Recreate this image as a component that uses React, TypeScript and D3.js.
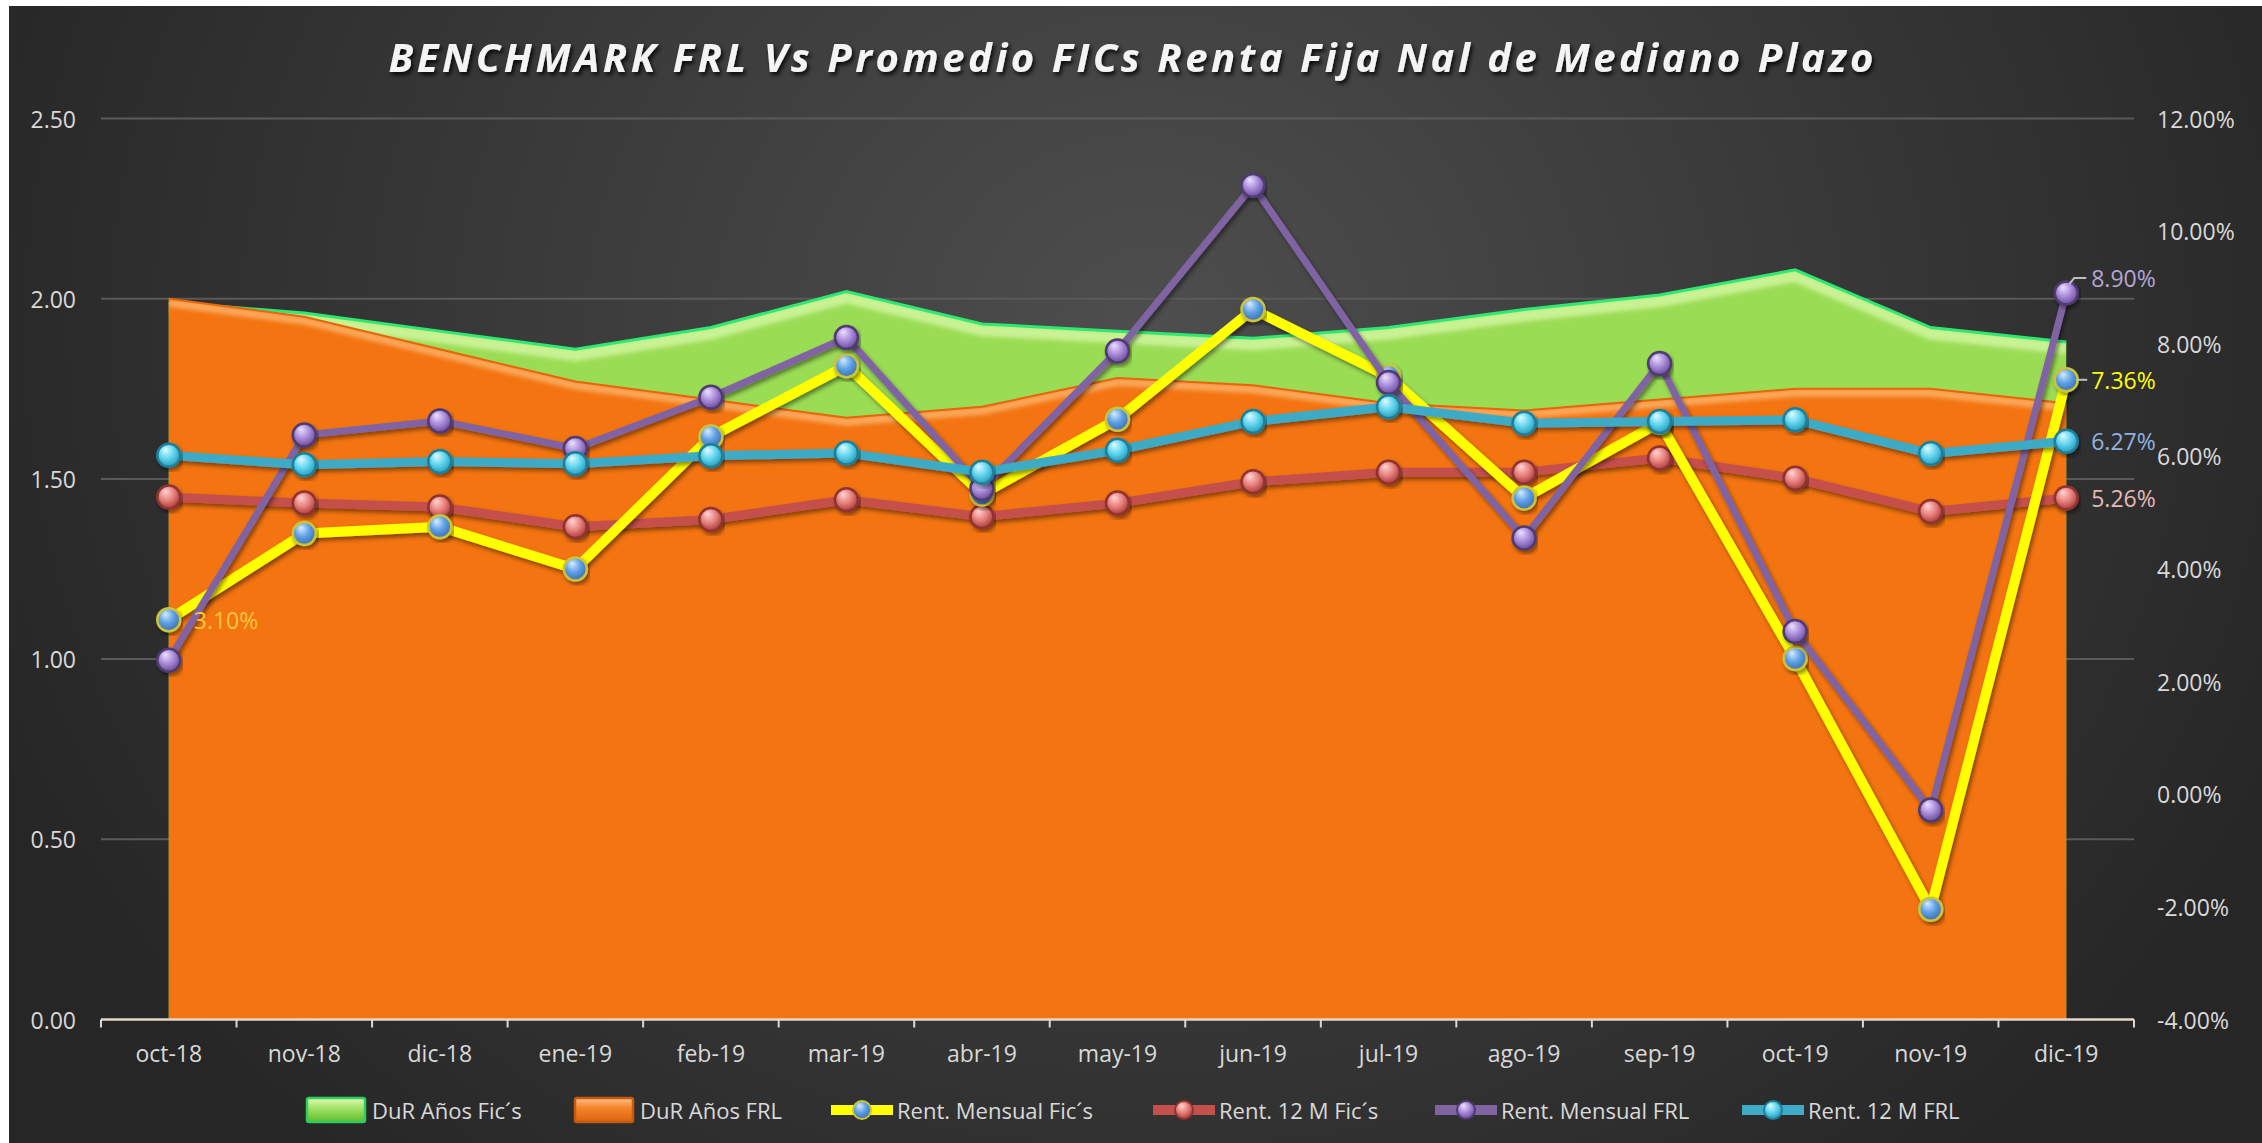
import React from 'react';
import * as d3 from 'd3';

const categories = ['oct-18','nov-18','dic-18','ene-19','feb-19','mar-19','abr-19','may-19','jun-19','jul-19','ago-19','sep-19','oct-19','nov-19','dic-19'];
const durFics = [1.99,1.96,1.91,1.86,1.92,2.02,1.93,1.91,1.89,1.92,1.97,2.01,2.08,1.92,1.88];
const durFrl = [2.00,1.95,1.86,1.77,1.72,1.67,1.70,1.78,1.76,1.71,1.69,1.72,1.75,1.75,1.71];
const rentMensualFics = [3.10,4.63,4.75,4.00,6.35,7.61,5.33,6.66,8.61,7.42,5.26,6.60,2.41,-2.04,7.36];
const rent12MFics = [5.28,5.17,5.10,4.75,4.88,5.23,4.93,5.17,5.55,5.72,5.72,5.97,5.61,5.02,5.26];
const rentMensualFrl = [2.38,6.38,6.63,6.14,7.05,8.11,5.43,7.87,10.81,7.31,4.55,7.65,2.89,-0.28,8.90];
const rent12MFrl = [6.02,5.85,5.91,5.87,6.01,6.06,5.72,6.11,6.62,6.88,6.59,6.62,6.65,6.05,6.27];
const leftTicks = [0, 0.5, 1, 1.5, 2, 2.5];
const rightTicks = [-4, -2, 0, 2, 4, 6, 8, 10, 12];

const W = 2262, H = 1143;
const PL = 101, PR = 2134, PT = 118.5, PB = 1019.5;
const FONT = "'Open Sans', 'Liberation Sans', sans-serif";

type LineSeries = { name: string; values: number[]; color: string; width: number; grad: string; mstroke: string };

const lineSeries: LineSeries[] = [
  { name: 'Rent. 12 M Fic´s', values: rent12MFics, color: '#c4504c', width: 9, grad: 'gRed', mstroke: '#8f3330' },
  { name: 'Rent. Mensual Fic´s', values: rentMensualFics, color: '#ffff00', width: 10, grad: 'gBlue', mstroke: '#c9c43a' },
  { name: 'Rent. Mensual FRL', values: rentMensualFrl, color: '#8064a2', width: 7, grad: 'gPurple', mstroke: '#4f3a72' },
  { name: 'Rent. 12 M FRL', values: rent12MFrl, color: '#3eaac6', width: 9, grad: 'gCyan', mstroke: '#1f7f99' },
];

const legendItems = [
  { name: 'DuR Años Fic´s', kind: 'area', grad: 'lgGreen', stroke: '#2ccf5c', x: 307 },
  { name: 'DuR Años FRL', kind: 'area', grad: 'lgOrange', stroke: '#c85a10', x: 575 },
  { name: 'Rent. Mensual Fic´s', kind: 'line', color: '#ffff00', grad: 'gBlue', mstroke: '#c9c43a', x: 831 },
  { name: 'Rent. 12 M Fic´s', kind: 'line', color: '#c4504c', grad: 'gRed', mstroke: '#8f3330', x: 1153 },
  { name: 'Rent. Mensual FRL', kind: 'line', color: '#8064a2', grad: 'gPurple', mstroke: '#4f3a72', x: 1435 },
  { name: 'Rent. 12 M FRL', kind: 'line', color: '#3eaac6', grad: 'gCyan', mstroke: '#1f7f99', x: 1742 },
];

function Sphere({ id, hi, base, dark }: { id: string; hi: string; base: string; dark: string }) {
  return (
    <radialGradient id={id} cx="0.45" cy="0.4" r="0.6" fx="0.35" fy="0.25">
      <stop offset="0" stopColor={hi} />
      <stop offset="0.55" stopColor={base} />
      <stop offset="1" stopColor={dark} />
    </radialGradient>
  );
}

export default function App() {
  const x = d3.scalePoint<string>().domain(categories).range([PL, PR]).padding(0.5);
  const band = (PR - PL) / categories.length;
  const yL = d3.scaleLinear().domain([0, 2.5]).range([PB, PT]);
  const yR = d3.scaleLinear().domain([-4, 12]).range([PB, PT]);
  const cx = (i: number) => x(categories[i]) as number;

  const area = d3.area<number>().x((_, i) => cx(i)).y0(yL(0)).y1((d) => yL(d));
  const topL = d3.line<number>().x((_, i) => cx(i)).y((d) => yL(d));
  const lineR = d3.line<number>().x((_, i) => cx(i)).y((d) => yR(d));

  const last = categories.length - 1;
  const fmt = (v: number) => v.toFixed(2) + '%';
  const boundaries = d3.range(categories.length + 1).map((k) => PL + k * band);

  return (
    <div style={{ position: 'absolute', left: 0, top: 0 }}>
      <svg width={W} height={H} style={{ display: 'block' }}>
        <defs>
          <radialGradient id="bg" gradientUnits="userSpaceOnUse" cx="1150" cy="330" r="1250" gradientTransform="translate(1150 330) scale(1 0.9) translate(-1150 -330)">
            <stop offset="0" stopColor="#4e4e4e" />
            <stop offset="0.55" stopColor="#383838" />
            <stop offset="1" stopColor="#262626" />
          </radialGradient>
          <Sphere id="gRed" hi="#ffd6d4" base="#e8807c" dark="#a83c38" />
          <Sphere id="gBlue" hi="#d8ecff" base="#5c9fe4" dark="#3e6fb0" />
          <Sphere id="gPurple" hi="#ece2ff" base="#a88ad8" dark="#6a4c9a" />
          <Sphere id="gCyan" hi="#e0fbff" base="#5fd4ee" dark="#2a9ab8" />
          <linearGradient id="lgGreen" x1="0" y1="0" x2="0" y2="1">
            <stop offset="0" stopColor="#e2fbb8" />
            <stop offset="0.4" stopColor="#a6e46a" />
            <stop offset="1" stopColor="#5dbb2e" />
          </linearGradient>
          <linearGradient id="lgOrange" x1="0" y1="0" x2="0" y2="1">
            <stop offset="0" stopColor="#fcc08a" />
            <stop offset="0.4" stopColor="#f5862c" />
            <stop offset="1" stopColor="#d9630c" />
          </linearGradient>
          <filter id="shadow" x="-10%" y="-10%" width="120%" height="130%">
            <feDropShadow dx="2" dy="3" stdDeviation="2" floodColor="#000" floodOpacity="0.45" />
          </filter>
          <filter id="tshadow" x="-5%" y="-30%" width="110%" height="160%">
            <feDropShadow dx="2" dy="3" stdDeviation="2" floodColor="#000" floodOpacity="0.85" />
          </filter>
          <filter id="blur2"><feGaussianBlur stdDeviation="2" /></filter>
          <clipPath id="clipGreen"><path d={area(durFics) as string} /></clipPath>
          <clipPath id="clipOrange"><path d={area(durFrl) as string} /></clipPath>
        </defs>

        <rect x={0} y={0} width={W} height={H} fill="#ffffff" />
        <rect x={9} y={6} width={W - 9} height={H - 6} fill="url(#bg)" />

        {/* title */}
        <text x={W / 2} y={72} textAnchor="middle" fill="#f4f4f4" fontFamily={FONT} fontSize={40}
          fontWeight="bold" fontStyle="italic" textLength={1485} lengthAdjust="spacing" filter="url(#tshadow)">
          BENCHMARK FRL Vs Promedio FICs Renta Fija Nal de Mediano Plazo
        </text>

        {/* gridlines */}
        {leftTicks.filter((t) => t > 0).map((t) => (
          <line key={t} x1={PL} x2={PR} y1={yL(t)} y2={yL(t)} stroke="#5a5a5a" strokeWidth={2} />
        ))}

        {/* areas */}
        <path d={area(durFics) as string} fill="#9bdc55" />
        <g clipPath="url(#clipGreen)">
          <path d={topL(durFics) as string} fill="none" stroke="#c9f294" strokeWidth={12} transform="translate(0,6)" filter="url(#blur2)" />
        </g>
        <path d={topL(durFics) as string} fill="none" stroke="#2ee872" strokeWidth={3} />
        <path d={area(durFrl) as string} fill="#f37410" />
        <g clipPath="url(#clipOrange)">
          <path d={topL(durFrl) as string} fill="none" stroke="#fba85c" strokeWidth={8} transform="translate(0,4)" filter="url(#blur2)" />
        </g>
        <path d={topL(durFrl) as string} fill="none" stroke="#e8650a" strokeWidth={2} />

        {/* x axis */}
        <line x1={PL} x2={PR} y1={PB} y2={PB} stroke="#e6d6c8" strokeWidth={2.5} />
        {boundaries.map((b, k) => (
          <line key={k} x1={b} x2={b} y1={PB} y2={PB + 8} stroke="#d9d9d9" strokeWidth={2} />
        ))}
        {categories.map((c, i) => (
          <text key={c} x={cx(i)} y={1053} textAnchor="middle" dominantBaseline="central" fill="#d9d9d9"
            fontFamily={FONT} fontSize={23}>{c}</text>
        ))}

        {/* left axis labels */}
        {leftTicks.map((t) => (
          <text key={t} x={76} y={yL(t)} textAnchor="end" dominantBaseline="central" fill="#d9d9d9"
            fontFamily={FONT} fontSize={23}>{t.toFixed(2)}</text>
        ))}
        {/* right axis labels */}
        {rightTicks.map((t) => (
          <text key={t} x={2157} y={yR(t)} textAnchor="start" dominantBaseline="central" fill="#d9d9d9"
            fontFamily={FONT} fontSize={23}>{t.toFixed(2)}%</text>
        ))}

        {/* lines */}
        {lineSeries.map((s) => (
          <g key={s.name}>
            <path d={lineR(s.values) as string} fill="none" stroke={s.color} strokeWidth={s.width}
              strokeLinejoin="round" filter="url(#shadow)" />
            {s.values.map((v, i) => (
              <circle key={i} cx={cx(i)} cy={yR(v)} r={11.5} fill={`url(#${s.grad})`} stroke={s.mstroke}
                strokeWidth={2.5} filter="url(#shadow)" />
            ))}
          </g>
        ))}

        {/* data labels */}
        <text x={cx(0) + 25} y={yR(rentMensualFics[0])} dominantBaseline="central" fill="#fcc83c"
          fontFamily={FONT} fontSize={23}>{fmt(rentMensualFics[0])}</text>
        <path d={`M${cx(last) + 3},${yR(rentMensualFrl[last]) - 9} L${cx(last) + 8},${yR(rentMensualFrl[last]) - 15} L${cx(last) + 20},${yR(rentMensualFrl[last]) - 15}`}
          fill="none" stroke="#bfbfbf" strokeWidth={2} />
        <text x={cx(last) + 25} y={yR(rentMensualFrl[last]) - 15} dominantBaseline="central" fill="#b4a7d6"
          fontFamily={FONT} fontSize={23}>{fmt(rentMensualFrl[last])}</text>
        <line x1={cx(last) + 10} x2={cx(last) + 21} y1={yR(rentMensualFics[last])} y2={yR(rentMensualFics[last])} stroke="#bfbfbf" strokeWidth={2} />
        <text x={cx(last) + 25} y={yR(rentMensualFics[last])} dominantBaseline="central" fill="#ffff00"
          fontFamily={FONT} fontSize={23}>{fmt(rentMensualFics[last])}</text>
        <text x={cx(last) + 25} y={yR(rent12MFrl[last])} dominantBaseline="central" fill="#8eb4e3"
          fontFamily={FONT} fontSize={23}>{fmt(rent12MFrl[last])}</text>
        <text x={cx(last) + 25} y={yR(rent12MFics[last])} dominantBaseline="central" fill="#e6b9b8"
          fontFamily={FONT} fontSize={23}>{fmt(rent12MFics[last])}</text>

        {/* legend */}
        {legendItems.map((it) => (
          <g key={it.name}>
            {it.kind === 'area' ? (
              <rect x={it.x} y={1098} width={58} height={24} rx={2} fill={`url(#${it.grad})`} stroke={it.stroke} strokeWidth={2.5} />
            ) : (
              <g>
                <line x1={it.x} x2={it.x + 62} y1={1110} y2={1110} stroke={it.color} strokeWidth={10} />
                <circle cx={it.x + 31} cy={1110} r={9} fill={`url(#${it.grad})`} stroke={it.mstroke} strokeWidth={2} />
              </g>
            )}
            <text x={it.x + (it.kind === 'area' ? 65 : 66)} y={1110} dominantBaseline="central" fill="#d9d9d9"
              fontFamily={FONT} fontSize={22}>{it.name}</text>
          </g>
        ))}
      </svg>
    </div>
  );
}
